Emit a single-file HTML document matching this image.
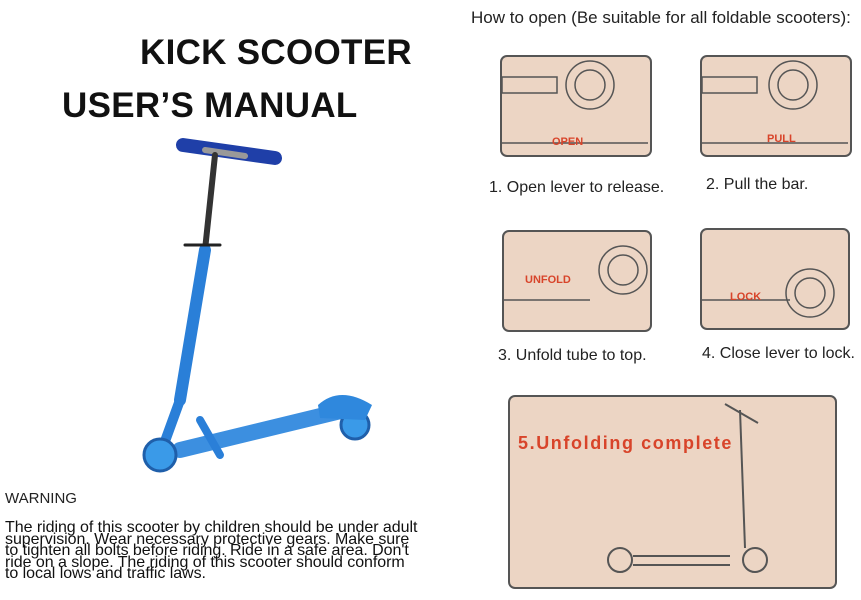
<!DOCTYPE html>
<html><head><meta charset="utf-8"><style>
body{margin:0;width:861px;height:600px;background:#fff;position:relative;overflow:hidden;font-family:"Liberation Sans",Arial,sans-serif}
.a{position:absolute;white-space:nowrap}
.t{font-weight:bold;font-size:35px;color:#111;letter-spacing:0.3px}
.cap{font-size:16px;color:#222}
.p{position:absolute;background:#ecd5c4;border:2px solid #555;border-radius:7px}
</style></head><body>
<div class="a t" style="left:140px;top:33px;font-size:35px">KICK SCOOTER</div>
<div class="a t" style="left:62px;top:86px;font-size:35px">USER’S MANUAL</div>

<svg class="a" style="left:140px;top:130px" width="240" height="360" viewBox="140 130 240 360">
 <g stroke-linecap="round" fill="none">
  <line x1="183" y1="145" x2="275" y2="158" stroke="#1f3fa8" stroke-width="14"/>
  <line x1="205" y1="150" x2="245" y2="156" stroke="#999" stroke-width="6"/>
  <line x1="215" y1="155" x2="205" y2="250" stroke="#333" stroke-width="6"/>
  <line x1="205" y1="250" x2="180" y2="400" stroke="#2a7fd8" stroke-width="12"/>
  <line x1="180" y1="400" x2="160" y2="455" stroke="#2a7fd8" stroke-width="10"/>
  <line x1="185" y1="245" x2="220" y2="245" stroke="#222" stroke-width="3"/>
  <line x1="180" y1="450" x2="345" y2="410" stroke="#3c8fe0" stroke-width="16"/>
  <line x1="200" y1="420" x2="220" y2="455" stroke="#2a7fd8" stroke-width="8"/>
 </g>
 <circle cx="160" cy="455" r="16" fill="#3a9ae8" stroke="#1f5faa" stroke-width="3"/>
 <circle cx="355" cy="425" r="14" fill="#3a9ae8" stroke="#1f5faa" stroke-width="3"/>
 <path d="M318 405 Q340 385 372 405 L365 420 L320 418Z" fill="#2f88dd"/>
</svg>

<div class="a" style="left:5px;top:490px;font-size:15px;color:#222">WARNING</div>
<div class="a" style="left:5px;top:522px;font-size:16px;line-height:11.6px;color:#111;white-space:normal;width:440px;letter-spacing:-0.05px">The riding of this scooter by children should be under adult<br>supervision. Wear necessary protective gears. Make sure<br>to tighten all bolts before riding. Ride in a safe area. Don't<br>ride on a slope. The riding of this scooter should conform<br>to local lows and traffic laws.</div>

<div class="a" style="left:471px;top:8px;font-size:17px;color:#222">How to open (Be suitable for all foldable scooters):</div>

<div class="p" style="left:500px;top:55px;width:148px;height:98px"></div>
<div class="p" style="left:700px;top:55px;width:148px;height:98px"></div>
<div class="p" style="left:502px;top:230px;width:146px;height:98px"></div>
<div class="p" style="left:700px;top:228px;width:146px;height:98px"></div>
<svg class="a" style="left:0;top:0" width="861" height="600">
 <g fill="none" stroke="#555" stroke-width="1.5">
  <circle cx="590" cy="85" r="24"/><circle cx="590" cy="85" r="15"/>
  <rect x="502" y="77" width="55" height="16"/>
  <circle cx="793" cy="85" r="24"/><circle cx="793" cy="85" r="15"/>
  <rect x="702" y="77" width="55" height="16"/>
  <circle cx="623" cy="270" r="24"/><circle cx="623" cy="270" r="15"/>
  <circle cx="810" cy="293" r="24"/><circle cx="810" cy="293" r="15"/>
  <line x1="502" y1="143" x2="648" y2="143"/><line x1="702" y1="143" x2="848" y2="143"/>
  <line x1="504" y1="300" x2="590" y2="300"/><line x1="702" y1="300" x2="790" y2="300"/>
 </g>
 <g fill="#d8442a" font-family="Liberation Sans" font-weight="bold" font-size="11">
  <text x="552" y="145">OPEN</text><text x="767" y="142">PULL</text>
  <text x="525" y="283">UNFOLD</text><text x="730" y="300">LOCK</text>
 </g>
 <g stroke="#555" stroke-width="2" fill="none">
  <circle cx="620" cy="560" r="12"/><circle cx="755" cy="560" r="12"/>
  <line x1="633" y1="556" x2="730" y2="556"/><line x1="633" y1="565" x2="730" y2="565"/>
  <line x1="740" y1="410" x2="745" y2="548"/>
  <line x1="725" y1="404" x2="758" y2="423"/>
 </g>
</svg>
<div class="a cap" style="left:489px;top:179px">1. Open lever to release.</div>
<div class="a cap" style="left:706px;top:176px">2. Pull the bar.</div>
<div class="a cap" style="left:498px;top:347px">3. Unfold tube to top.</div>
<div class="a cap" style="left:702px;top:345px">4. Close lever to lock.</div>

<div class="p" style="left:508px;top:395px;width:325px;height:190px;z-index:-1"></div>
<div class="a" style="left:518px;top:433px;font-size:18px;font-weight:bold;color:#d8442a;letter-spacing:1.6px">5.Unfolding complete</div>
</body></html>
